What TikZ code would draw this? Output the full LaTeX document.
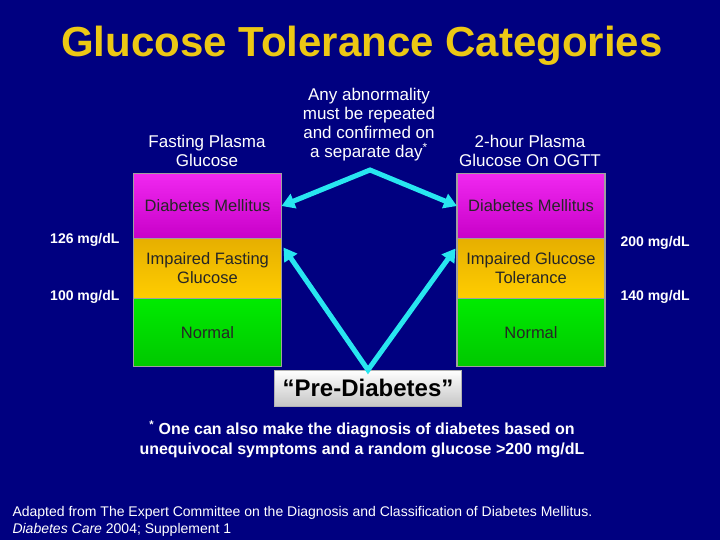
\documentclass[tikz,border=0pt]{standalone}
\usepackage{fontspec}
\setmainfont{Liberation Sans}
\usetikzlibrary{arrows.meta,calc,positioning}

\definecolor{slidebg}{RGB}{0,0,128}
\definecolor{titlegold}{RGB}{236,200,20}
\definecolor{magtop}{RGB}{240,40,240}
\definecolor{magbot}{RGB}{200,0,200}
\definecolor{ylwtop}{RGB}{230,175,0}
\definecolor{ylwbot}{RGB}{255,205,0}
\definecolor{grntop}{RGB}{0,235,0}
\definecolor{grnbot}{RGB}{0,200,0}
\definecolor{linkcyan}{RGB}{40,230,240}

\begin{document}
\begin{tikzpicture}[x=1pt,y=-1pt,
    band/.style={draw=gray!75, line width=1.5pt, outer sep=0pt, minimum width=148pt,
      align=center, text=black!85, font=\fontsize{16.5}{19}\selectfont},
    dmband/.style={band, minimum height=65pt, top color=magtop, bottom color=magbot},
    imband/.style={band, minimum height=60pt, top color=ylwtop, bottom color=ylwbot},
    okband/.style={band, minimum height=68pt, top color=grntop, bottom color=grnbot},
    head/.style={text=white, align=center, font=\fontsize{17}{19}\selectfont},
    level/.style={text=white, font=\bfseries\fontsize{14}{16}\selectfont},
    link/.style={draw=linkcyan, line width=5pt, line join=miter,
      {Triangle[length=13pt,width=15pt]}-{Triangle[length=13pt,width=15pt]}}]

% background and title
\fill[slidebg] (0,0) rectangle (720,540);
\node[text=titlegold, font=\bfseries\fontsize{42}{46}\selectfont] (title) at (362,46) {Glucose Tolerance Categories};

% column headings
\node[head] (fpghead) at (207,151) {Fasting Plasma\\Glucose};
\node[head] (ogtthead) at (530,151) {2-hour Plasma\\Glucose On OGTT};
\node[head] (repeat) at (369,125) {Any abnormality\\must be repeated\\and confirmed on\\a separate day\textsuperscript{*}};

% fasting column
\node[dmband] (dmL) at (207.5,206) {Diabetes Mellitus};
\node[imband, below=0pt of dmL] (ifgL) {Impaired Fasting\\Glucose};
\node[okband, below=0pt of ifgL] (okL) {Normal};

% OGTT column
\node[dmband] (dmR) at (531,206) {Diabetes Mellitus};
\node[imband, below=0pt of dmR] (igtR) {Impaired Glucose\\Tolerance};
\node[okband, below=0pt of igtR] (okR) {Normal};

% cut points
\node[level, anchor=east] (cut126) at (123,240) {126 mg/dL};
\node[level, anchor=east] (cut100) at (123,297) {100 mg/dL};
\node[level, anchor=west] (cut200) at (617,243) {200 mg/dL};
\node[level, anchor=west] (cut140) at (617,297) {140 mg/dL};

% pre-diabetes
\node[draw=gray!60, line width=1pt, top color=white, bottom color=gray!45,
  minimum width=187pt, minimum height=36pt, outer sep=0pt,
  font=\bfseries\fontsize{24}{26}\selectfont] (pre) at (368,388) {“Pre-Diabetes”};

% arrows
\coordinate (apexT) at (370,170);
\draw[link] (dmL.east) -- (apexT) -- (dmR.west);
\draw[link] ($(ifgL.north east)+(2,9)$) -- (pre.north) -- ($(igtR.north west)+(-1.5,10)$);

% footnote and source
\node[text=white, align=center, font=\bfseries\fontsize{16}{20}\selectfont] (note) at (362,439)
  {\textsuperscript{*} One can also make the diagnosis of diabetes based on\\unequivocal symptoms and a random glucose >200 mg/dL};
\node[text=white, align=left, anchor=west, font=\fontsize{14}{17}\selectfont] (source) at (9,521)
  {Adapted from The Expert Committee on the Diagnosis and Classification of Diabetes Mellitus.\\\textit{Diabetes Care} 2004; Supplement 1};
\end{tikzpicture}
\end{document}
